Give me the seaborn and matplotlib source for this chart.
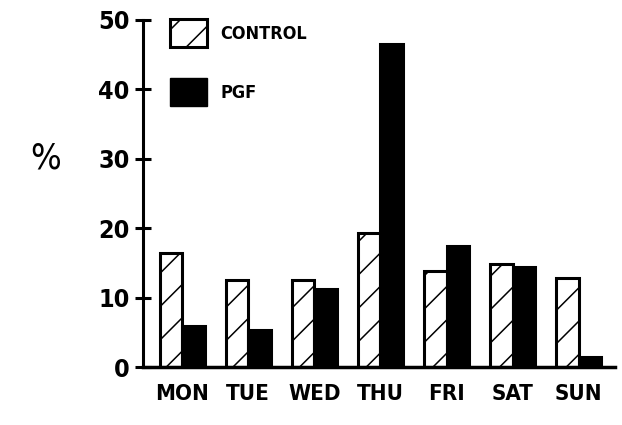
import pandas as pd
import matplotlib
matplotlib.use("Agg")
import matplotlib.pyplot as plt
import matplotlib.patches as mpatches
import seaborn as sns

# Valores
dias = ["MON", "TUE", "WED", "THU", "FRI", "SAT", "SUN"]
control = [16.4, 12.6, 12.6, 19.3, 13.8, 14.8, 12.9]
pgf = [6.0, 5.4, 11.3, 46.5, 17.5, 14.5, 1.4]

datos = pd.DataFrame({
    "dia": dias * 2,
    "valor": control + pgf,
    "grupo": ["CONTROL"] * len(dias) + ["PGF"] * len(dias),
})

sns.set_style("white")
plt.rcParams["font.family"] = ["DejaVu Sans"]
plt.rcParams["font.stretch"] = "condensed"
plt.rcParams["font.weight"] = "bold"
plt.rcParams["text.color"] = "black"
plt.rcParams["xtick.color"] = "black"
plt.rcParams["ytick.color"] = "black"
plt.rcParams["axes.labelcolor"] = "black"
plt.rcParams["axes.edgecolor"] = "black"
plt.rcParams["hatch.linewidth"] = 1.1

fig = plt.figure(figsize=(6.22, 4.25), dpi=100)
ax = fig.add_axes([0.230, 0.136, 0.759, 0.817])

sns.barplot(data=datos, x="dia", y="valor", hue="grupo", order=dias,
            hue_order=["CONTROL", "PGF"], palette=["white", "black"],
            width=0.68, gap=0, edgecolor="black", linewidth=2.2,
            legend=False, ax=ax)

# Rayado de las barras de control
for barra in ax.patches[:len(dias)]:
    barra.set_hatch("/")

ax.set_ylim(0, 50)
ax.set_xlim(-0.59, 6.55)
ax.set_yticks([0, 10, 20, 30, 40, 50])
ax.set_xlabel("")
ax.set_ylabel("%", rotation=0, fontsize=26, fontweight="normal", va="center")
ax.yaxis.set_label_coords(-0.207, 0.60)

for lado in ["top", "right"]:
    ax.spines[lado].set_visible(False)
ax.spines["left"].set_linewidth(2.2)
ax.spines["bottom"].set_linewidth(2.5)

ax.tick_params(axis="y", left=True, direction="inout", length=11, width=2.2,
               labelsize=18, pad=4)
ax.tick_params(axis="x", bottom=False, length=0, labelsize=16, pad=12)

h1 = mpatches.Patch(facecolor="white", edgecolor="black", hatch="/",
                    linewidth=2.2, label="CONTROL")
h2 = mpatches.Patch(facecolor="black", edgecolor="black", label="PGF")
ax.legend(handles=[h1, h2], loc="upper left", bbox_to_anchor=(0.023, 1.05),
          frameon=False, fontsize=13, handlelength=2.05, handleheight=2.0,
          labelspacing=1.75, handletextpad=0.72)

fig.savefig("out.png", dpi=100)
